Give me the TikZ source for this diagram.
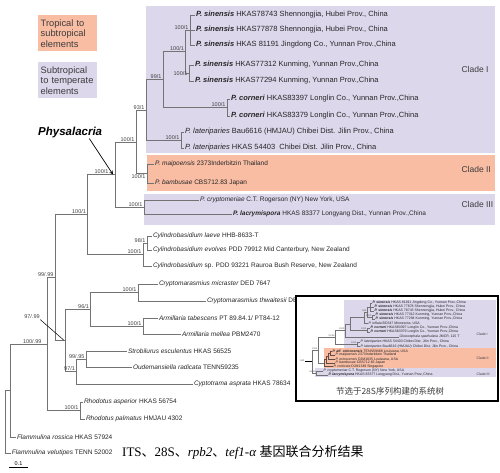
\documentclass[tikz,border=0pt]{standalone}
\usepackage{fontspec}
\setmainfont{Liberation Sans}
\newfontfamily\capserif{Liberation Serif}
\newfontfamily\cjk{Noto Sans CJK SC}
\usepackage{tikz}
\usetikzlibrary{arrows}

\definecolor{tempcol}{RGB}{221,215,236}
\definecolor{tropcol}{RGB}{249,189,164}
\definecolor{branchcol}{RGB}{115,115,115}
\definecolor{labcol}{RGB}{60,60,60}
\newcommand{\boldsp}[1]{\textbf{\textit{#1}}}

\begin{document}
\begin{tikzpicture}[x=1pt, y=-1pt]
    % Define styles
    \tikzstyle{taxon} = [anchor=west, inner sep=0.8pt, font=\fontsize{6.5}{7.5}\selectfont, text=black!85]
    \tikzstyle{bigtaxon} = [taxon, font=\fontsize{7.5}{8.5}\selectfont]
    \tikzstyle{boot} = [anchor=south east, inner sep=0.4pt, font=\fontsize{5.5}{6.5}\selectfont, text=black!75]
    \tikzstyle{branch} = [draw=branchcol, line width=0.75pt]
    \tikzstyle{clade} = [anchor=west, font=\fontsize{8.5}{10}\selectfont, text=labcol]
    \tikzstyle{legend} = [anchor=north west, minimum width=59pt, minimum height=36pt, text width=54pt, align=left, inner sep=2.5pt, font=\fontsize{9.3}{10.5}\selectfont, text=labcol]
    \tikzstyle{mini} = [anchor=west, inner sep=0.4pt, font=\fontsize{3.5}{4}\selectfont, text=black!85]
    \tikzstyle{miniboot} = [anchor=south east, inner sep=0.2pt, font=\fontsize{2.2}{3}\selectfont, text=black!70]
    \tikzstyle{minibranch} = [draw=branchcol, line width=0.35pt]
    \tikzstyle{arrow} = [line width=0.7pt,->,>=stealth]
    \useasboundingbox (0,0) rectangle (500,472);

    % Clade boxes
    \fill[tempcol] (146,6) rectangle (495,153);
    \fill[tropcol] (147,155) rectangle (495,191);
    \fill[tempcol] (144,194) rectangle (495,225);
    \node[clade] (cladeI) at (458,69) {Clade I};
    \node[clade] (cladeII) at (458,169) {Clade II};
    \node[clade] (cladeIII) at (458,204) {Clade III};

    % Legend
    \node[legend, fill=tropcol] (troplg) at (38,15) {Tropical to\\subtropical\\elements};
    \node[legend, fill=tempcol] (templg) at (38,62) {Subtropical\\to temperate\\elements};
    \node[anchor=west, inner sep=0pt, font=\fontsize{11.5}{13}\selectfont\bfseries\itshape] (phylab) at (38,133) {Physalacria};

    % Taxa
    \node[bigtaxon] (s1) at (195,15) {\boldsp{P. sinensis} HKAS78743 Shennongjia, Hubei Prov., China};
    \node[bigtaxon] (s2) at (195,30) {\boldsp{P. sinensis} HKAS77878 Shennongjia, Hubei Prov., China};
    \node[bigtaxon] (s3) at (195,45) {\boldsp{P. sinensis} HKAS 81191 Jingdong Co., Yunnan Prov.,China};
    \node[bigtaxon] (s4) at (194,65) {\boldsp{P. sinensis} HKAS77312 Kunming, Yunnan Prov.,China};
    \node[bigtaxon] (s5) at (194,81) {\boldsp{P. sinensis} HKAS77294 Kunming, Yunnan Prov.,China};
    \node[bigtaxon] (c1) at (230,99) {\boldsp{P. corneri} HKAS83397 Longlin Co., Yunnan Prov.,China};
    \node[bigtaxon] (c2) at (230,116) {\boldsp{P. corneri} HKAS83379 Longlin Co., Yunnan Prov.,China};
    \node[bigtaxon] (l1) at (184,132) {\textit{P. lateriparies} Bau6616 (HMJAU) Chibei Dist. Jilin Prov., China};
    \node[bigtaxon] (l2) at (184,148) {\textit{P. lateriparies} HKAS 54403\ \ Chibei Dist. Jilin Prov., China};
    \node[taxon] (m1) at (154,164) {\textit{P. maipoensis} 2373Inderbitzin Thailand};
    \node[taxon] (m2) at (154,183) {\textit{P. bambusae} CBS712.83 Japan};
    \node[taxon] (cr) at (199,200) {\textit{P. cryptomeriae} C.T. Rogerson (NY) New York, USA};
    \node[taxon] (la) at (232,214) {\boldsp{P. lacrymispora} HKAS 83377 Longyang Dist., Yunnan Prov.,China};
    \node[taxon] (cy1) at (152,236) {\textit{Cylindrobasidium laeve} HHB-8633-T};
    \node[taxon] (cy2) at (152,250) {\textit{Cylindrobasidium evolves} PDD 79912 Mid Canterbury, New Zealand};
    \node[taxon] (cy3) at (152,266) {\textit{Cylindrobasidium} sp. PDD 93221 Rauroa Bush Reserve, New Zealand};
    \node[taxon] (cm1) at (158,284) {\textit{Cryptomarasmius micraster} DED 7647};
    \node[taxon] (cm2) at (206,301) {\textit{Cryptomarasmius thwaitesii} DED};
    \node[taxon] (am1) at (158,318) {\textit{Armillaria tabescens} PT 89.84.1/ PT84-12};
    \node[taxon] (am2) at (181,334) {\textit{Armillaria mellea} PBM2470};
    \node[taxon] (so1) at (127,351) {\textit{Strobilurus esculentus} HKAS 56525};
    \node[taxon] (so2) at (132,367) {\textit{Oudemansiella radicata} TENN59235};
    \node[taxon] (ca) at (193,384) {\textit{Cyptotrama asprata} HKAS 78634};
    \node[taxon] (rh1) at (83,402) {\textit{Rhodotus asperior} HKAS 56754};
    \node[taxon] (rh2) at (85,419) {\textit{Rhodotus palmatus} HMJAU 4302};
    \node[taxon] (fr) at (16,437) {\textit{Flammulina rossica} HKAS 57924};
    \node[taxon] (fv) at (11,453) {\textit{Flammulina velutipes} TENN 52002};

    % Internal nodes
    \coordinate (nS1) at (190,30);
    \coordinate (nS2) at (189,73);
    \coordinate (nS) at (185,51.5);
    \coordinate (nC) at (227,107.5);
    \coordinate (nSC) at (163,79.5);
    \coordinate (nL) at (181,140);
    \coordinate (nI) at (146,110);
    \coordinate (nII) at (147,173.5);
    \coordinate (nIa) at (136,142);
    \coordinate (nIII) at (144,207);
    \coordinate (nPhy) at (115,174.5);
    \coordinate (nCyl1) at (147,243);
    \coordinate (nCyl) at (143,254.5);
    \coordinate (nA) at (87,214.5);
    \coordinate (nCry) at (138,292.5);
    \coordinate (nArm) at (143,326);
    \coordinate (n96) at (90,309);
    \coordinate (nSO) at (86,359);
    \coordinate (n97) at (76,371.5);
    \coordinate (nB) at (65,340.3);
    \coordinate (nC2) at (55,277.4);
    \coordinate (nRh) at (80,410.5);
    \coordinate (nD) at (47,344);
    \coordinate (nE) at (10,390.5);
    \coordinate (nRoot) at (5,421.7);

    % Branches
    \draw[branch] (nS1) |- (s1.west); \draw[branch] (nS1) -- (s2.west); \draw[branch] (nS1) |- (s3.west);
    \draw[branch] (nS2) |- (s4.west); \draw[branch] (nS2) |- (s5.west);
    \draw[branch] (nS) |- (nS1); \draw[branch] (nS) |- (nS2);
    \draw[branch] (nC) |- (c1.west); \draw[branch] (nC) |- (c2.west);
    \draw[branch] (nSC) |- (nS); \draw[branch] (nSC) |- (nC);
    \draw[branch] (nL) |- (l1.west); \draw[branch] (nL) |- (l2.west);
    \draw[branch] (nI) |- (nSC); \draw[branch] (nI) |- (nL);
    \draw[branch] (nII) |- (m1.west); \draw[branch] (nII) |- (m2.west);
    \draw[branch] (nIa) |- (nI); \draw[branch] (nIa) |- (nII);
    \draw[branch] (nIII) |- (cr.west); \draw[branch] (nIII) |- (la.west);
    \draw[branch] (nPhy) |- (nIa); \draw[branch] (nPhy) |- (nIII);
    \draw[branch] (nCyl1) |- (cy1.west); \draw[branch] (nCyl1) |- (cy2.west);
    \draw[branch] (nCyl) |- (nCyl1); \draw[branch] (nCyl) |- (cy3.west);
    \draw[branch] (nA) |- (nPhy); \draw[branch] (nA) |- (nCyl);
    \draw[branch] (nCry) |- (cm1.west); \draw[branch] (nCry) |- (cm2.west);
    \draw[branch] (nArm) |- (am1.west); \draw[branch] (nArm) |- (am2.west);
    \draw[branch] (n96) |- (nCry); \draw[branch] (n96) |- (nArm);
    \draw[branch] (nSO) |- (so1.west); \draw[branch] (nSO) |- (so2.west);
    \draw[branch] (n97) |- (nSO); \draw[branch] (n97) |- (ca.west);
    \draw[branch] (nB) |- (n96); \draw[branch] (nB) |- (n97);
    \draw[branch] (nC2) |- (nA); \draw[branch] (nC2) |- (nB);
    \draw[branch] (nRh) |- (rh1.west); \draw[branch] (nRh) |- (rh2.west);
    \draw[branch] (nD) |- (nC2); \draw[branch] (nD) |- (nRh);
    \draw[branch] (nE) |- (nD); \draw[branch] (nE) |- (fr.west);
    \draw[branch] (nRoot) |- (nE); \draw[branch] (nRoot) |- (fv.west);

    % Support values
    \node[boot] at ([xshift=-1pt]nS1) {100/1};
    \node[boot] at ([xshift=-1pt,yshift=-3pt]nS2) {100/1};
    \node[boot] at ([xshift=-0.5pt]nS) {100/1};
    \node[boot] at ([xshift=-1pt]nC) {100/1};
    \node[boot] at ([xshift=-1pt]nSC) {99/1};
    \node[boot] at ([xshift=-1pt]nL) {100/1};
    \node[boot] at ([xshift=-1pt]nI) {93/1};
    \node[boot] at ([xshift=-1pt]nIa) {100/1};
    \node[boot, anchor=north east] at ([xshift=-1pt]nII) {100/1};
    \node[boot] at ([xshift=-6pt]nPhy) {100/1};
    \node[boot] at ([xshift=-1pt]nIII) {100/1};
    \node[boot] at ([xshift=-1pt]nCyl1) {98/1};
    \node[boot] at ([xshift=-1pt]nCyl) {100/1};
    \node[boot] at ([xshift=-0.5pt]nA) {100/1};
    \node[boot] at ([xshift=-1pt]nCry) {100/1};
    \node[boot] at ([xshift=-1pt]nArm) {100/1};
    \node[boot] at ([xshift=-0.5pt]n96) {96/1};
    \node[boot] at ([xshift=-1pt]nSO) {99/.95};
    \node[boot] at ([xshift=-0.5pt]n97) {97/1};
    \node[boot] at ([xshift=-1pt]nC2) {99/.99};
    \node[boot] at ([xshift=-1pt]nRh) {100/1};
    \node[boot] at ([xshift=-5pt]nD) {100/.99};
    \node[boot, anchor=center] (b97) at (32,317) {97/.99};
    \draw[line width=0.5pt] (b97.south east) -- ([xshift=-1pt]nB);

    % Arrow
    \draw[arrow] ([xshift=-13pt]phylab.south east) -- ([xshift=-2pt]nPhy);

    % Scale bar
    \coordinate (sb1) at (9,467);
    \coordinate (sb2) at (28,467);
    \draw[line width=0.6pt] (sb1) -- node[above, inner sep=1pt, font=\fontsize{5.5}{6}\selectfont] {0.1} (sb2);

    % Caption
    \node[anchor=west, inner sep=0pt, font=\fontsize{13}{15}\selectfont] (caption) at (122,452)
        {{\capserif ITS}{\cjk 、}{\capserif 28S}{\cjk 、}{\capserif\itshape rpb2}{\cjk 、}{\capserif\itshape tef1-α} {\cjk 基因联合分析结果}};

    % Inset
    \draw[line width=1.2pt, fill=white] (296,296) rectangle (498,401);
    \fill[tempcol] (344,300) rectangle (496,348);
    \fill[tropcol] (324,348) rectangle (496,367.5);
    \fill[tempcol] (315,367.5) rectangle (496,377);
    \node[mini, text=labcol] (icI) at (476,334) {Clade I};
    \node[mini, text=labcol] (icII) at (476,358) {Clade II};
    \node[mini, text=labcol] (icIII) at (476,374) {Clade III};

    \node[mini] (t1) at (372,303) {\boldsp{P. sinensis} HKAS 81191 Jingdong Co., Yunnan Prov.,China};
    \node[mini] (t2) at (374,307) {\boldsp{P. sinensis} HKAS 77878 Shennongjia, Hubei Prov., China};
    \node[mini] (t3) at (374,311) {\boldsp{P. sinensis} HKAS 78743 Shennongjia, Hubei Prov., China};
    \node[mini] (t4) at (375,315) {\boldsp{P. sinensis} HKAS 77312 Kunming, Yunnan Prov.,China};
    \node[mini] (t5) at (375,319) {\boldsp{P. sinensis} HKAS 77294 Kunming, Yunnan Prov.,China};
    \node[mini] (t6) at (368,323) {\textit{P. inflata} BD347 Minnesota, USA};
    \node[mini] (t7) at (370,328) {\boldsp{P. corneri} HKAS83397 Longlin Co., Yunnan Prov.,China};
    \node[mini] (t8) at (370,332) {\boldsp{P. corneri} HKAS83379 Longlin Co., Yunnan Prov.,China};
    \node[mini] (t9) at (399,337) {\textit{Gloiocephala spathularia} JMCR. 115 T};
    \node[mini] (t10) at (360,342) {\textit{P. lateriparies} HKAS 54403 Chibei Dist. Jilin Prov., China};
    \node[mini] (t11) at (360,346.5) {\textit{P. lateriparies} Bau6616 (HMJAU) Chibei Dist. Jilin Prov., China};
    \node[mini] (t12) at (332,351) {\boldsp{P. aff. orinocensis} TENN59488 Louisiana, USA};
    \node[mini] (t13) at (335,355) {\textit{P. maipoensis} 2373Inderbitzin Thailand};
    \node[mini] (t14) at (335,359) {\textit{P. orinocensis} DJM1035 Louisiana, USA};
    \node[mini] (t15) at (335,363) {\textit{P. bambusae} CBS712.83 Japan};
    \node[mini] (t16) at (333,366.5) {\textit{P. corticola} DJM1349 Singapore};
    \node[mini] (t17) at (323,371) {\textit{P. cryptomeriae} C.T. Rogerson (NY) New York, USA};
    \node[mini] (t18) at (328,375) {\boldsp{P. lacrymispora} HKAS 83377 Longyang Dist., Yunnan Prov.,China};

    \coordinate (i1) at (370,307);
    \coordinate (i2) at (372,317);
    \coordinate (i3) at (367,312);
    \coordinate (i4) at (364,317.5);
    \coordinate (i5) at (367,330);
    \coordinate (i6) at (350,323.8);
    \coordinate (i7) at (345,330.4);
    \coordinate (i8) at (357,344.3);
    \coordinate (i9) at (335,337.3);
    \coordinate (i10) at (330,353);
    \coordinate (i11) at (328,356);
    \coordinate (i12) at (326,359.5);
    \coordinate (i13) at (324,363);
    \coordinate (i14) at (318,350.2);
    \coordinate (i15) at (316,373);
    \coordinate (i16) at (312,361.6);
    \coordinate (iroot) at (305,361.6);

    \draw[minibranch] (i1) |- (t1.west); \draw[minibranch] (i1) -- (t2.west); \draw[minibranch] (i1) |- (t3.west);
    \draw[minibranch] (i2) |- (t4.west); \draw[minibranch] (i2) |- (t5.west);
    \draw[minibranch] (i3) |- (i1); \draw[minibranch] (i3) |- (i2);
    \draw[minibranch] (i4) |- (i3); \draw[minibranch] (i4) |- (t6.west);
    \draw[minibranch] (i5) |- (t7.west); \draw[minibranch] (i5) |- (t8.west);
    \draw[minibranch] (i6) |- (i4); \draw[minibranch] (i6) |- (i5);
    \draw[minibranch] (i7) |- (i6); \draw[minibranch] (i7) |- (t9.west);
    \draw[minibranch] (i8) |- (t10.west); \draw[minibranch] (i8) |- (t11.west);
    \draw[minibranch] (i9) |- (i7); \draw[minibranch] (i9) |- (i8);
    \draw[minibranch, draw=tropcol!40!black] (i10) |- (t12.west); \draw[minibranch, draw=tropcol!40!black] (i10) |- (t13.west);
    \draw[minibranch, draw=tropcol!40!black] (i11) |- (i10); \draw[minibranch, draw=tropcol!40!black] (i11) |- (t14.west);
    \draw[minibranch, draw=tropcol!40!black] (i12) |- (i11); \draw[minibranch, draw=tropcol!40!black] (i12) |- (t15.west);
    \draw[minibranch, draw=tropcol!40!black] (i13) |- (i12); \draw[minibranch, draw=tropcol!40!black] (i13) |- (t16.west);
    \draw[minibranch] (i14) |- (i9); \draw[minibranch] (i14) |- (i13);
    \draw[minibranch] (i15) |- (t17.west); \draw[minibranch] (i15) |- (t18.west);
    \draw[minibranch] (i16) |- (i14); \draw[minibranch] (i16) |- (i15);
    \draw[line width=1.3pt] (iroot) -- (i16);

    \node[miniboot] at (i2) {100/1};
    \node[miniboot] at (i3) {99/1};
    \node[miniboot] at (i5) {100/1};
    \node[miniboot] at (i7) {100/1};
    \node[miniboot] at (i8) {100/1};
    \node[miniboot] at (i9) {76/.86};
    \node[miniboot] at (i14) {100/1};
    \node[miniboot] at (i15) {91/.96};
    \node[miniboot] at ([yshift=-0.8pt]iroot.east) {99/1};

    \node[font=\cjk\fontsize{8.5}{10}\selectfont, text=labcol] (insetcap) at (390,391) {节选于28S序列构建的系统树};
\end{tikzpicture}
\end{document}
